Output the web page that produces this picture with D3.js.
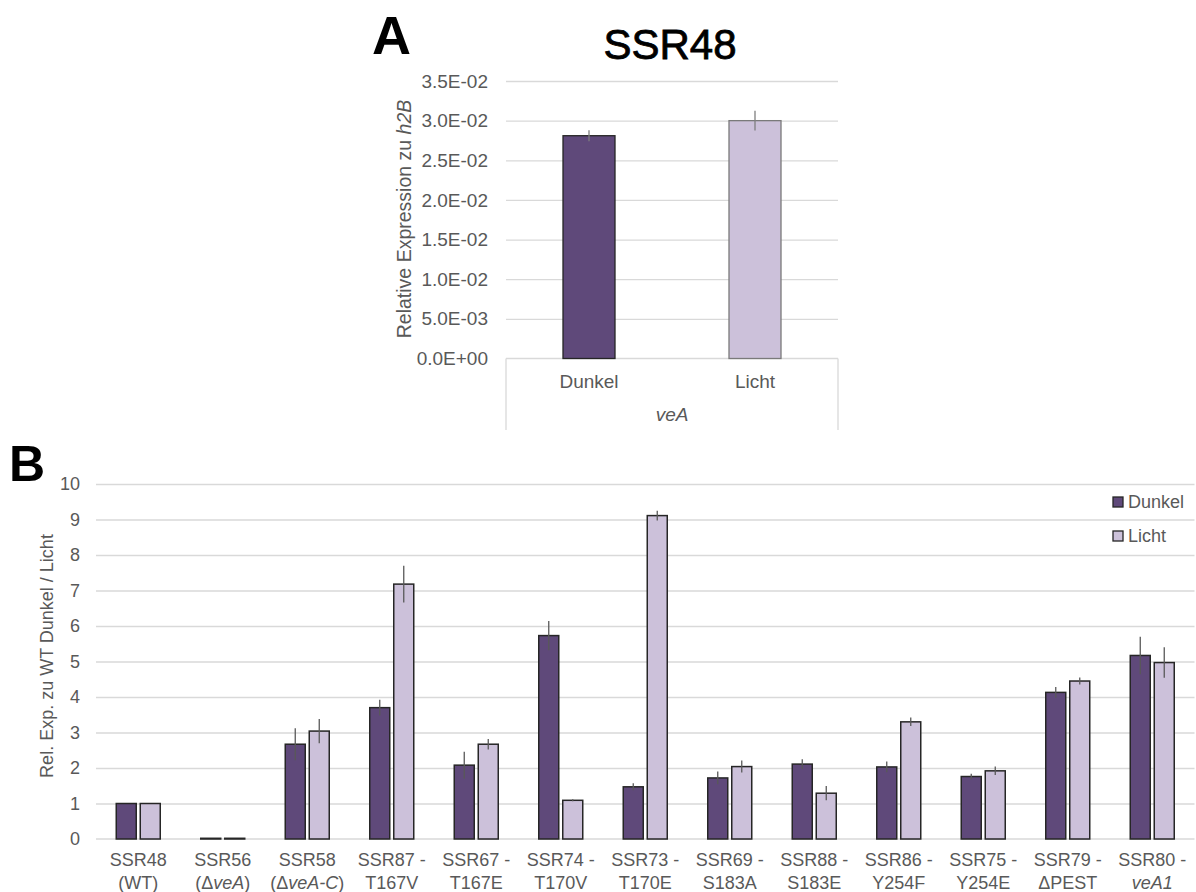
<!DOCTYPE html>
<html>
<head>
<meta charset="utf-8">
<script src="https://cdn.jsdelivr.net/npm/d3@7"></script>
<style>
  html, body { margin: 0; padding: 0; background: #fff; }
  svg { display: block; font-family: "Liberation Sans", Arial, sans-serif; }
</style>
</head>
<body>
<svg id="chart" width="1196" height="892"></svg>
<script>
// ---------- Panel A data ----------
const aCategories = ["Dunkel", "Licht"];
const aValues = [0.0281, 0.0300];
const aErrors = [0.0007, 0.00125];
const aTicks = [0, 0.005, 0.01, 0.015, 0.02, 0.025, 0.03, 0.035];

// ---------- Panel B data ----------
const bCategories = ["SSR48", "SSR56", "SSR58", "SSR87 -", "SSR67 -", "SSR74 -", "SSR73 -",
                     "SSR69 -", "SSR88 -", "SSR86 -", "SSR75 -", "SSR79 -", "SSR80 -"];
// second label line: segments [text, italic]
const bSubLabels = [
  [["(WT)", false]],
  [["(Δ", false], ["veA", true], [")", false]],
  [["(Δ", false], ["veA-C", true], [")", false]],
  [["T167V", false]],
  [["T167E", false]],
  [["T170V", false]],
  [["T170E", false]],
  [["S183A", false]],
  [["S183E", false]],
  [["Y254F", false]],
  [["Y254E", false]],
  [["ΔPEST", false]],
  [["veA1", true]]
];
const bSeries = ["Dunkel", "Licht"];
const bDunkel = [1.00, 0.02, 2.67, 3.70, 2.08, 5.73, 1.47, 1.72, 2.11, 2.03, 1.76, 4.13, 5.17];
const bLicht  = [1.00, 0.02, 3.04, 7.18, 2.67, 1.09, 9.11, 2.04, 1.29, 3.30, 1.92, 4.45, 4.97];
const bDunkelErr = [0, 0, 0.45, 0.22, 0.38, 0.41, 0.10, 0.18, 0.14, 0.15, 0.08, 0.15, 0.53];
const bLichtErr  = [0, 0, 0.34, 0.52, 0.15, 0.03, 0.14, 0.17, 0.20, 0.12, 0.12, 0.10, 0.43];
const bTicks = [0, 1, 2, 3, 4, 5, 6, 7, 8, 9, 10];

const colDark = "#5f497a";
const colLight = "#ccc1da";
const textCol = "#595959";
const gridCol = "#d9d9d9";
const errCol = "#595959";

const svg = d3.select("#chart");

// ================= Panel A =================
(function () {
  const left = 506, right = 838, top = 81, bottom = 358.5;
  const fs = 19;
  const x = d3.scaleBand().domain(aCategories).range([left, right]);
  const y = d3.scaleLinear().domain([0, 0.035]).range([bottom, top]);
  const g = svg.append("g");

  // gridlines
  const grid = d3.axisLeft(y).tickValues(aTicks.slice(1)).tickSize(-(right - left)).tickFormat("");
  g.append("g").attr("transform", `translate(${left},0)`).call(grid)
    .call(s => s.select(".domain").remove())
    .call(s => s.selectAll("line").attr("stroke", gridCol).attr("stroke-width", 1.3));

  // y tick labels
  const fmt = v => {
    const e = v.toExponential(1).toUpperCase(); // e.g. 3.5E-2
    const m = e.match(/^(.*)E([+-])(\d+)$/);
    return m[1] + "E" + m[2] + m[3].padStart(2, "0");
  };
  const ax = d3.axisLeft(y).tickValues(aTicks).tickSize(0).tickPadding(0).tickFormat(fmt);
  g.append("g").attr("transform", `translate(488,0)`).call(ax)
    .call(s => s.select(".domain").remove())
    .call(s => s.selectAll("text").attr("fill", textCol).attr("font-size", fs)
      .attr("font-family", "Liberation Sans, Arial, sans-serif"));

  // category box
  g.append("line").attr("x1", left).attr("x2", right).attr("y1", bottom).attr("y2", bottom)
    .attr("stroke", gridCol).attr("stroke-width", 1.3);
  g.append("line").attr("x1", left).attr("x2", left).attr("y1", bottom).attr("y2", 430)
    .attr("stroke", gridCol).attr("stroke-width", 1.3);
  g.append("line").attr("x1", right).attr("x2", right).attr("y1", bottom).attr("y2", 430)
    .attr("stroke", gridCol).attr("stroke-width", 1.3);

  // bars
  const bw = 52;
  g.selectAll("rect.bar").data(aValues).join("rect")
    .attr("x", (d, i) => x(aCategories[i]) + x.bandwidth() / 2 - bw / 2)
    .attr("y", d => y(d))
    .attr("width", bw)
    .attr("height", d => y(0) - y(d))
    .attr("fill", (d, i) => i === 0 ? colDark : colLight)
    .attr("stroke", (d, i) => i === 0 ? "#262626" : "#7a7a7a")
    .attr("stroke-width", 1.3);

  // error bars
  g.selectAll("line.err").data(aValues).join("line")
    .attr("x1", (d, i) => x(aCategories[i]) + x.bandwidth() / 2)
    .attr("x2", (d, i) => x(aCategories[i]) + x.bandwidth() / 2)
    .attr("y1", (d, i) => y(d + aErrors[i]))
    .attr("y2", (d, i) => y(d - aErrors[i]))
    .attr("stroke", "#7f7f7f").attr("stroke-width", 1.3);

  // category labels
  g.selectAll("text.cat").data(aCategories).join("text")
    .attr("x", d => x(d) + x.bandwidth() / 2)
    .attr("y", 388)
    .attr("text-anchor", "middle")
    .attr("font-size", fs).attr("fill", textCol)
    .text(d => d);
  g.append("text").attr("x", (left + right) / 2).attr("y", 421)
    .attr("text-anchor", "middle").attr("font-size", fs).attr("font-style", "italic")
    .attr("fill", textCol).text("veA");

  // y title
  const yt = g.append("text")
    .attr("transform", "translate(411,219) rotate(-90)")
    .attr("text-anchor", "middle").attr("font-size", 19.5).attr("fill", textCol);
  yt.append("tspan").text("Relative Expression zu ");
  yt.append("tspan").attr("font-style", "italic").text("h2B");

  // chart title
  g.append("text").attr("x", 670).attr("y", 59).attr("text-anchor", "middle")
    .attr("font-size", 42).attr("fill", "#000")
    .attr("stroke", "#000").attr("stroke-width", 0.8).text("SSR48");

  // panel letter
  svg.append("text").attr("x", 372).attr("y", 54).attr("font-size", 54)
    .attr("font-weight", "bold").attr("fill", "#000").text("A");
})();

// ================= Panel B =================
(function () {
  const left = 96, right = 1194.5, top = 484, bottom = 839;
  const x = d3.scaleBand().domain(bCategories).range([left, right]);
  const y = d3.scaleLinear().domain([0, 10]).range([bottom, top]);
  const g = svg.append("g");

  // gridlines
  const grid = d3.axisLeft(y).tickValues(bTicks.slice(1)).tickSize(-(right - left)).tickFormat("");
  g.append("g").attr("transform", `translate(${left},0)`).call(grid)
    .call(s => s.select(".domain").remove())
    .call(s => s.selectAll("line").attr("stroke", gridCol).attr("stroke-width", 1.3));

  // y tick labels
  const ax = d3.axisLeft(y).tickValues(bTicks).tickSize(0).tickPadding(0).tickFormat(d3.format("d"));
  g.append("g").attr("transform", `translate(80,0)`).call(ax)
    .call(s => s.select(".domain").remove())
    .call(s => s.selectAll("text").attr("fill", textCol).attr("font-size", 18)
      .attr("font-family", "Liberation Sans, Arial, sans-serif"));

  // x axis line
  g.append("line").attr("x1", left).attr("x2", right).attr("y1", bottom).attr("y2", bottom)
    .attr("stroke", gridCol).attr("stroke-width", 1.3);

  // bars
  const bw = 20, gap = 4;
  const rows = [];
  bCategories.forEach((c, i) => {
    rows.push({ c, s: 0, v: bDunkel[i], e: bDunkelErr[i] });
    rows.push({ c, s: 1, v: bLicht[i], e: bLichtErr[i] });
  });
  const bx = d => x(d.c) + x.bandwidth() / 2 + (d.s === 0 ? -gap / 2 - bw : gap / 2);
  g.selectAll("rect.bar").data(rows).join("rect")
    .attr("x", bx)
    .attr("y", d => y(d.v))
    .attr("width", bw)
    .attr("height", d => y(0) - y(d.v))
    .attr("fill", d => d.s === 0 ? colDark : colLight)
    .attr("stroke", "#262626")
    .attr("stroke-width", 1.5);

  g.selectAll("line.err").data(rows.filter(d => d.e > 0)).join("line")
    .attr("x1", d => bx(d) + bw / 2)
    .attr("x2", d => bx(d) + bw / 2)
    .attr("y1", d => y(d.v + d.e))
    .attr("y2", d => y(d.v - d.e))
    .attr("stroke", errCol).attr("stroke-width", 1.3);

  // category labels
  const lab = g.selectAll("g.lab").data(bCategories).join("g")
    .attr("transform", d => `translate(${x(d) + x.bandwidth() / 2},0)`);
  lab.append("text").attr("y", 866).attr("text-anchor", "middle")
    .attr("font-size", 18).attr("fill", textCol).text(d => d);
  lab.each(function (d, i) {
    const t = d3.select(this).append("text").attr("y", 889).attr("text-anchor", "middle")
      .attr("font-size", 18).attr("fill", textCol);
    bSubLabels[i].forEach(([txt, it]) => {
      t.append("tspan").attr("font-style", it ? "italic" : "normal").text(txt);
    });
  });

  // y title
  g.append("text").attr("transform", "translate(53,656) rotate(-90)")
    .attr("text-anchor", "middle").attr("font-size", 18).attr("fill", textCol)
    .text("Rel. Exp. zu WT Dunkel / Licht");

  // legend
  const lg = g.selectAll("g.leg").data(bSeries).join("g")
    .attr("transform", (d, i) => `translate(1113,${497 + i * 34})`);
  lg.append("rect").attr("width", 10).attr("height", 10)
    .attr("fill", (d, i) => i === 0 ? colDark : colLight)
    .attr("stroke", "#262626").attr("stroke-width", 1.3);
  lg.append("text").attr("x", 15).attr("y", 5).attr("dy", "0.35em")
    .attr("font-size", 18).attr("fill", textCol).text(d => d);

  // panel letter
  svg.append("text").attr("x", 9).attr("y", 481).attr("font-size", 50)
    .attr("font-weight", "bold").attr("fill", "#000").text("B");
})();
</script>
</body>
</html>
